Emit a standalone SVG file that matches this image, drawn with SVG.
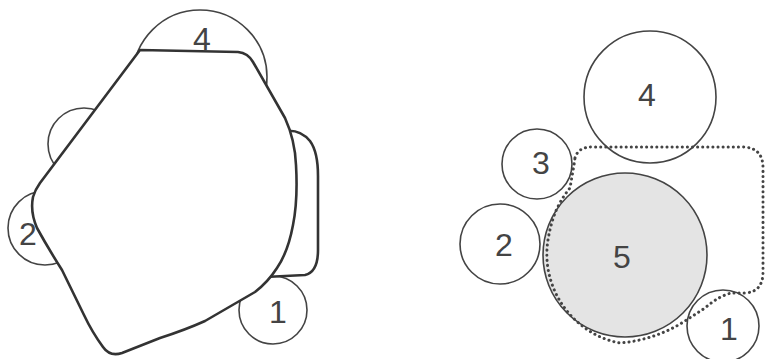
<svg xmlns="http://www.w3.org/2000/svg" width="765" height="359" viewBox="0 0 765 359">
<style>
.c{fill:#fff;stroke:#444;stroke-width:1.6}
.t{font-family:"Liberation Sans",Arial,sans-serif;font-size:32px;fill:#444;text-anchor:middle}
.p{fill:#fff;stroke:#333;stroke-width:2.6;stroke-linejoin:round}
.d{fill:none;stroke:#444;stroke-width:3;stroke-dasharray:0.1 5;stroke-linecap:round}
</style>
<rect width="765" height="359" fill="#fff"/>
<g id="left">
  <g id="l4"><circle class="c" cx="200" cy="77" r="67"/><text class="t" x="202" y="50">4</text></g>
  <g id="l3"><circle class="c" cx="84" cy="144" r="36"/></g>
  <g id="l2"><circle class="c" cx="45" cy="228" r="37"/></g>
  <g id="l1"><circle class="c" cx="273" cy="310" r="34"/></g>
  <g id="lshape"><path class="p" d="M285,131 Q300,129 310,141 Q318,152 318,176 L318,250 Q318,272 305,275 L265,277 Z"/></g>
  <g id="lpoly"><path class="p" d="M140,50 L238,52 Q248,53 253,62 L285,118 Q295,140 296,165 Q298,200 293,225 Q288,252 277,268 Q268,282 255,292 L205,321 Q185,330 160,338 L122,353 Q110,357 103,347 Q92,332 84,315 L62,270 Q48,248 37,228 Q30,212 33,197 Q35,190 40,183 Z"/></g>
  <text class="t" x="28" y="245">2</text>
  <text class="t" x="278" y="323">1</text>
</g>
<g id="right">
  <g id="r4"><circle class="c" cx="650" cy="97" r="66"/><text class="t" x="647" y="106">4</text></g>
  <g id="r3"><circle class="c" cx="537" cy="164" r="35"/><text class="t" x="541" y="174">3</text></g>
  <g id="r2"><circle class="c" cx="500" cy="244" r="40"/><text class="t" x="504" y="256">2</text></g>
  <g id="r5"><circle class="c" cx="625" cy="255" r="82" style="fill:#e4e4e4"/><text class="t" x="622" y="268">5</text></g>
  <g id="r1"><circle class="c" cx="723" cy="326" r="36"/><text class="t" x="729" y="340">1</text></g>
</g>
<g id="connectors">
  <path class="d" d="M575,158 Q578,147 592,147 L742,147 Q763,147 763,168 L763,272 Q763,292 745,293 L732,293 Q720,295 705,308 L685,321 Q655,340 620,343 C575,335 540,290 548,240 C552,215 560,200 570,188 L574,165 Z"/>
</g>
</svg>
